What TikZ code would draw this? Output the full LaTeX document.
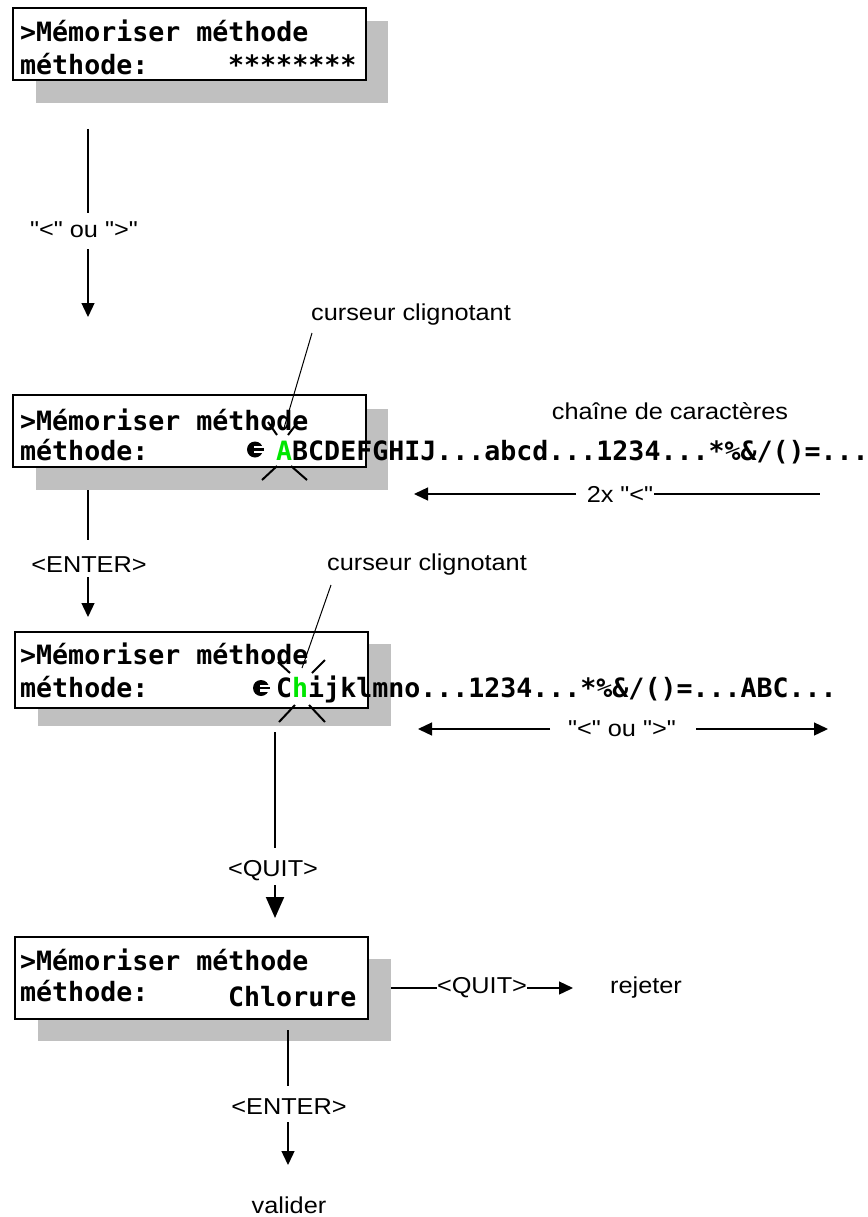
\documentclass[tikz,border=0pt]{standalone}
\usepackage{fontspec}
\usetikzlibrary{arrows.meta}
\newfontfamily\lcdfont{DejaVu Sans Mono}
\newfontfamily\labfont{Liberation Sans}[FakeStretch=1.1]
\definecolor{shade}{RGB}{192,192,192}
\definecolor{lcdgreen}{RGB}{0,230,0}
\tikzset{
  lcd/.style={font={\lcdfont\bfseries\fontsize{26.6}{30}\selectfont}, inner sep=0pt, anchor=base west},
  lab/.style={font={\labfont\fontsize{23}{27}\selectfont}, inner sep=0pt},
  screen/.style={draw=black, line width=1.3pt, fill=white, inner sep=0pt, outer sep=0pt, anchor=north west, minimum width=353pt},
  shadowbox/.style={fill=shade, inner sep=0pt, outer sep=0pt, anchor=north west},
  conn/.style={line width=1.3pt},
  tipsmall/.style={-{Triangle[length=14pt,width=13pt]}},
  tipbig/.style={-{Triangle[length=21pt,width=18pt]}},
  ray/.style={line width=2pt},
  leader/.style={line width=1pt},
}
\begin{document}
\begin{tikzpicture}[x=1pt,y=-1pt]
\useasboundingbox (0,0) rectangle (867,1217);

% ---------- box 1
\node[shadowbox, minimum width=352pt, minimum height=82pt] (s1) at (36,21) {};
\node[screen, minimum height=72pt] (b1) at (13,8) {};
\node[lcd] (b1l1) at (20,42) {>Mémoriser méthode};
\node[lcd] (b1l2) at (20,75) {méthode:};
\node[lcd] (b1v) at (228,75) {********};

% arrow 1
\coordinate (a1s) at (88,129);
\coordinate (a1e) at (88,213);
\node[lab] (l1) at (84,230) {"<" ou ">"};
\coordinate (a1f) at (88,249);
\coordinate (a1t) at (88,317);
\draw[conn] (a1s) -- (a1e);
\draw[conn,tipsmall] (a1f) -- (a1t);

% ---------- box 2
\node[lab, anchor=west] (cur1) at (311,315) {curseur clignotant};
\node[shadowbox, minimum width=352pt, minimum height=81pt] (s2) at (36,409) {};
\node[screen, minimum height=72pt] (b2) at (13,395) {};
\node[lcd] (b2l1) at (20,430) {>Mémoriser méthode};
\node[lcd] (b2l2) at (20,460) {méthode:};
\fill (255,449.5) circle[radius=8pt];
\fill[white] (254,446) rectangle (264,453);
\fill (254,448.3) rectangle (264,450.7);
\node[lcd] (chain1) at (276,460) {{\color{lcdgreen}A}BCDEFGHIJ...abcd...1234...*\%\&/()=...};
\draw[ray] (268,422) -- (277,435);
\draw[ray] (288,435) -- (298,422);
\draw[ray] (262,480) -- (277,466);
\draw[ray] (291,466) -- (307,480);
\coordinate (c1s) at (312,333);
\coordinate (c1e) at (284,428);
\draw[leader] (c1s) -- (c1e);

\node[lab] (chl) at (670,411) {chaîne de caractères};

% 2x "<"
\node[lab] (l2x) at (620,494) {2x "<"};
\coordinate (h1a) at (576,494);
\coordinate (h1t) at (414,494);
\coordinate (h1b) at (654,494);
\coordinate (h1c) at (820,494);
\draw[conn,tipsmall] (h1a) -- (h1t);
\draw[conn] (h1b) -- (h1c);

% ENTER 1
\coordinate (e1s) at (88,490);
\coordinate (e1e) at (88,540);
\node[lab] (le1) at (89,565) {<ENTER>};
\coordinate (e1f) at (88,577);
\coordinate (e1t) at (88,617);
\draw[conn] (e1s) -- (e1e);
\draw[conn,tipsmall] (e1f) -- (e1t);

% ---------- box 3
\node[lab, anchor=west] (cur2) at (327,565) {curseur clignotant};
\node[shadowbox, minimum width=353pt, minimum height=82pt] (s3) at (38,644) {};
\node[screen, minimum height=76pt] (b3) at (15,632) {};
\node[lcd] (b3l1) at (20,664) {>Mémoriser méthode};
\node[lcd] (b3l2) at (20,697) {méthode:};
\fill (261,688) circle[radius=8pt];
\fill[white] (260,684.5) rectangle (270,691.5);
\fill (260,686.8) rectangle (270,689.2);
\node[lcd] (chain2) at (276,697) {C{\color{lcdgreen}h}ijklmno...1234...*\%\&/()=...ABC...};
\draw[ray] (278,662) -- (290,673);
\draw[ray] (312,673) -- (325,660);
\draw[ray] (279,722) -- (295,705);
\draw[ray] (309,705) -- (325,722);
\coordinate (c2s) at (331,585);
\coordinate (c2e) at (302,668);
\draw[leader] (c2s) -- (c2e);

% "<" ou ">"
\node[lab] (l3) at (622,729) {"<" ou ">"};
\coordinate (h2a) at (550,729);
\coordinate (h2t) at (418,729);
\coordinate (h2b) at (696,729);
\coordinate (h2u) at (828,729);
\draw[conn,tipsmall] (h2a) -- (h2t);
\draw[conn,tipsmall] (h2b) -- (h2u);

% QUIT down
\coordinate (q1s) at (275,732);
\coordinate (q1e) at (275,848);
\node[lab] (lq1) at (273,871) {<QUIT>};
\coordinate (q1f) at (275,885);
\coordinate (q1t) at (275,918);
\draw[line width=2pt] (q1s) -- (q1e);
\draw[line width=2pt,tipbig] (q1f) -- (q1t);

% ---------- box 4
\node[shadowbox, minimum width=353pt, minimum height=82pt] (s4) at (38,959) {};
\node[screen, minimum height=82pt] (b4) at (15,937) {};
\node[lcd] (b4l1) at (20,970) {>Mémoriser méthode};
\node[lcd] (b4l2) at (20,1001) {méthode:};
\node[lcd] (b4v) at (228,1006) {Chlorure};

% QUIT right
\coordinate (q2s) at (391,988);
\coordinate (q2e) at (437,988);
\node[lab] (lq2) at (482,988) {<QUIT>};
\coordinate (q2f) at (527,988);
\coordinate (q2t) at (573,988);
\node[lab, anchor=west] (rej) at (610,988) {rejeter};
\draw[conn] (q2s) -- (q2e);
\draw[conn,tipsmall] (q2f) -- (q2t);

% ENTER 2
\coordinate (e2s) at (288,1030);
\coordinate (e2e) at (288,1086);
\node[lab] (le2) at (289,1107) {<ENTER>};
\coordinate (e2f) at (288,1122);
\coordinate (e2t) at (288,1165);
\draw[conn] (e2s) -- (e2e);
\draw[conn,tipsmall] (e2f) -- (e2t);
\node[lab] (val) at (289,1205) {valider};
\end{tikzpicture}
\end{document}
